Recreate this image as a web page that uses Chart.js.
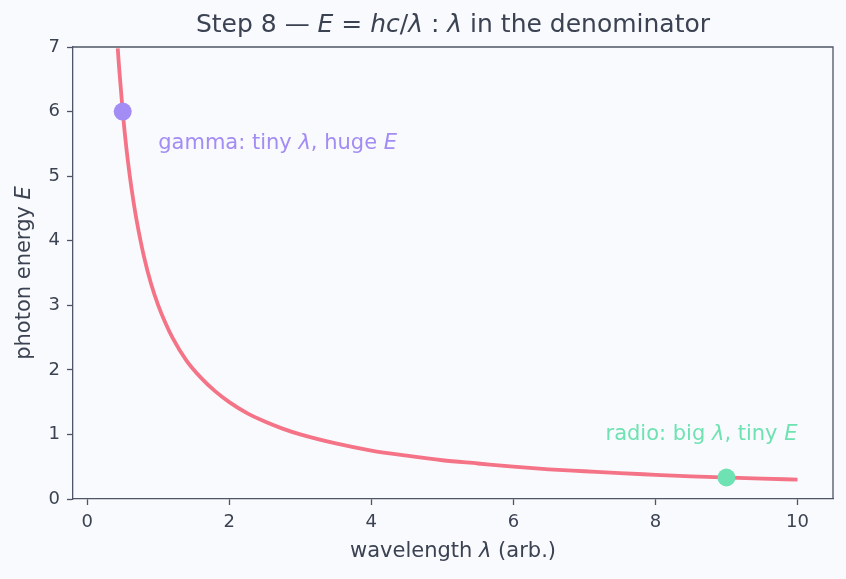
<!DOCTYPE html>
<html>
<head>
<meta charset="utf-8">
<script src="https://cdn.jsdelivr.net/npm/chart.js@4/dist/chart.umd.min.js"></script>
<style>
  html, body { margin: 0; padding: 0; background: #f9fafd; }
  #wrap { width: 846px; height: 579px; }
</style>
</head>
<body>
<div id="wrap"><canvas id="c" width="846" height="579"></canvas></div>
<script>
// ---- data ----
const lambdaValues = [0.43, 0.45, 0.5, 0.55, 0.6, 0.65, 0.7, 0.8, 0.9, 1.0, 1.1, 1.2, 1.4, 1.6, 1.8, 2.0, 2.25, 2.5, 2.75, 3.0, 3.5, 4.0, 4.5, 5.0, 5.5, 6.0, 6.5, 7.0, 7.5, 8.0, 8.5, 9.0, 9.5, 10.0];
const energyValues = [6.98, 6.67, 6.0, 5.45, 5.0, 4.62, 4.29, 3.75, 3.33, 3.0, 2.73, 2.5, 2.14, 1.88, 1.67, 1.5, 1.33, 1.2, 1.09, 1.0, 0.86, 0.75, 0.67, 0.6, 0.55, 0.5, 0.46, 0.43, 0.40, 0.375, 0.35, 0.333, 0.316, 0.3];
const gammaPoint = { x: 0.5, y: 6.0 };
const radioPoint = { x: 9.0, y: 0.333 };
const xTicks = [0, 2, 4, 6, 8, 10];
const yTicks = [0, 1, 2, 3, 4, 5, 6, 7];
const gammaLabelAt = { x: 1.0, y: 5.5 };
const radioLabelAt = { x: 10.0, y: 1.0 };

const FONT = '"DejaVu Sans", sans-serif';
const TEXT = '#3b4252';
const SPINE = '#4f5566';
const CURVE = '#f47386';
const GAMMA = '#a38cf4';
const RADIO = '#6ee2b2';

function richWidth(ctx, segs, size) {
  let w = 0;
  for (const s of segs) {
    ctx.font = (s.i ? 'italic ' : '') + size + 'px ' + FONT;
    w += ctx.measureText(s.t).width;
  }
  return w;
}
function drawRich(ctx, segs, x, y, align, size, color) {
  const w = richWidth(ctx, segs, size);
  let cx = align === 'center' ? x - w / 2 : align === 'right' ? x - w : x;
  ctx.fillStyle = color;
  ctx.textAlign = 'left';
  ctx.textBaseline = 'middle';
  for (const s of segs) {
    ctx.font = (s.i ? 'italic ' : '') + size + 'px ' + FONT;
    ctx.fillText(s.t, cx, y);
    cx += ctx.measureText(s.t).width;
  }
}

const textPlugin = {
  id: 'textPlugin',
  beforeDraw(chart) {
    const ctx = chart.ctx;
    ctx.save();
    ctx.fillStyle = '#f9fafd';
    ctx.fillRect(0, 0, chart.width, chart.height);
    ctx.restore();
  },
  afterDraw(chart) {
    const ctx = chart.ctx;
    const a = chart.chartArea;
    const xs = chart.scales.x, ys = chart.scales.y;
    ctx.save();
    // top & right spines
    ctx.strokeStyle = SPINE;
    ctx.lineWidth = 1.3;
    ctx.beginPath();
    ctx.moveTo(a.left, a.top); ctx.lineTo(a.right, a.top); ctx.lineTo(a.right, a.bottom);
    ctx.stroke();
    // title
    drawRich(ctx, [
      { t: 'Step 8 \u2014 ' }, { t: 'E', i: true }, { t: ' = ' }, { t: 'hc', i: true },
      { t: '/' }, { t: '\u03bb', i: true }, { t: ' : ' }, { t: '\u03bb', i: true },
      { t: ' in the denominator' }
    ], (a.left + a.right) / 2, 25, 'center', 25, TEXT);
    // x axis title
    drawRich(ctx, [{ t: 'wavelength ' }, { t: '\u03bb', i: true }, { t: ' (arb.)' }],
      (a.left + a.right) / 2, 552, 'center', 21, TEXT);
    // y axis title
    ctx.save();
    ctx.translate(25, (a.top + a.bottom) / 2);
    ctx.rotate(-Math.PI / 2);
    drawRich(ctx, [{ t: 'photon energy ' }, { t: 'E', i: true }], 0, 0, 'center', 21, TEXT);
    ctx.restore();
    // annotations
    drawRich(ctx, [{ t: 'gamma: tiny ' }, { t: '\u03bb', i: true }, { t: ', huge ' }, { t: 'E', i: true }],
      xs.getPixelForValue(gammaLabelAt.x), ys.getPixelForValue(gammaLabelAt.y), 'left', 21, GAMMA);
    drawRich(ctx, [{ t: 'radio: big ' }, { t: '\u03bb', i: true }, { t: ', tiny ' }, { t: 'E', i: true }],
      xs.getPixelForValue(radioLabelAt.x), ys.getPixelForValue(radioLabelAt.y), 'right', 21, RADIO);
    ctx.restore();
  }
};

const curve = lambdaValues.map((x, i) => ({ x, y: energyValues[i] }));

new Chart(document.getElementById('c'), {
  type: 'scatter',
  data: {
    datasets: [
      { data: curve, showLine: true, borderColor: CURVE, borderWidth: 3.8, pointRadius: 0,
        cubicInterpolationMode: 'monotone', fill: false, order: 2 },
      { data: [gammaPoint], backgroundColor: GAMMA, borderWidth: 0, pointRadius: 9, order: 1 },
      { data: [radioPoint], backgroundColor: RADIO, borderWidth: 0, pointRadius: 9, order: 1 }
    ]
  },
  options: {
    responsive: false,
    animation: false,
    devicePixelRatio: 1,
    layout: { padding: { left: 0, top: 47, right: 13, bottom: 0 } },
    plugins: { legend: { display: false }, tooltip: { enabled: false }, title: { display: false } },
    scales: {
      x: {
        type: 'linear', min: -0.2, max: 10.5,
        afterBuildTicks: s => { s.ticks = xTicks.map(v => ({ value: v })); },
        afterFit: s => { s.height = 80; },
        grid: { drawOnChartArea: false, drawTicks: true, tickLength: 6, tickWidth: 1.3, tickColor: SPINE },
        border: { display: true, color: SPINE, width: 1.3 },
        ticks: { color: TEXT, font: { family: FONT, size: 18 }, padding: 7, maxRotation: 0 }
      },
      y: {
        type: 'linear', min: 0, max: 7,
        afterBuildTicks: s => { s.ticks = yTicks.map(v => ({ value: v })); },
        afterFit: s => { s.width = 73; },
        grid: { drawOnChartArea: false, drawTicks: true, tickLength: 6, tickWidth: 1.3, tickColor: SPINE },
        border: { display: true, color: SPINE, width: 1.3 },
        ticks: { color: TEXT, font: { family: FONT, size: 18 }, padding: 7 }
      }
    }
  },
  plugins: [textPlugin]
});
</script>
</body>
</html>
